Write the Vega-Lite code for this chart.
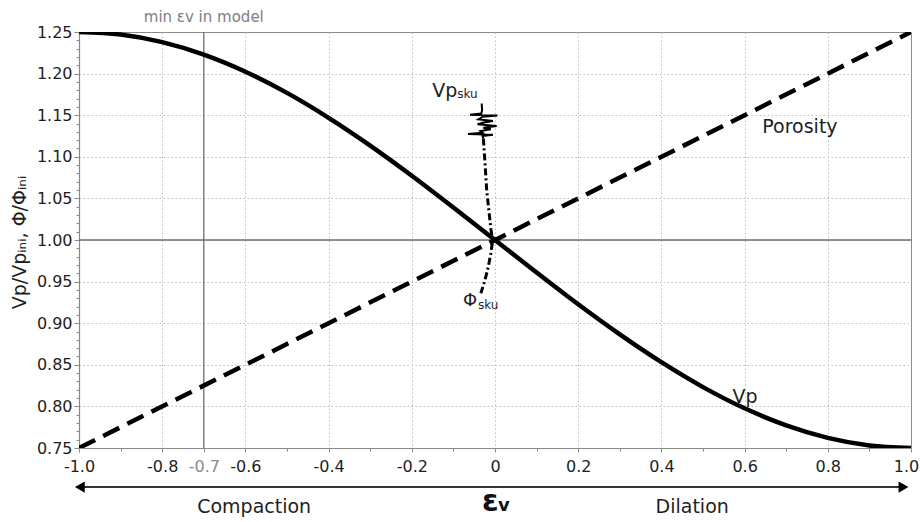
{
  "$schema": "https://vega.github.io/schema/vega-lite/v6.json",
  "width": 832,
  "height": 416,
  "autosize": {"type": "none"},
  "padding": {"left": 79, "top": 32, "right": 9, "bottom": 74},
  "background": "white",
  "config": {
    "view": {"stroke": "#8a8a8a", "strokeWidth": 1},
    "font": "DejaVu Sans",
    "axis": {"labelFont": "DejaVu Sans", "titleFont": "DejaVu Sans"}
  },
  "datasets": {
    "vp": [
      {"strain": -1.0, "ratio": 1.2500}, {"strain": -0.9, "ratio": 1.2469},
      {"strain": -0.8, "ratio": 1.2378}, {"strain": -0.7, "ratio": 1.2228},
      {"strain": -0.6, "ratio": 1.2023}, {"strain": -0.5, "ratio": 1.1768},
      {"strain": -0.4, "ratio": 1.1469}, {"strain": -0.3, "ratio": 1.1135},
      {"strain": -0.2, "ratio": 1.0773}, {"strain": -0.1, "ratio": 1.0391},
      {"strain": 0.0, "ratio": 1.0000}, {"strain": 0.1, "ratio": 0.9609},
      {"strain": 0.2, "ratio": 0.9227}, {"strain": 0.3, "ratio": 0.8865},
      {"strain": 0.4, "ratio": 0.8531}, {"strain": 0.5, "ratio": 0.8232},
      {"strain": 0.6, "ratio": 0.7977}, {"strain": 0.7, "ratio": 0.7772},
      {"strain": 0.8, "ratio": 0.7622}, {"strain": 0.9, "ratio": 0.7531},
      {"strain": 1.0, "ratio": 0.7500}
    ],
    "porosity": [
      {"strain": -1.0, "ratio": 0.75},
      {"strain": 1.0, "ratio": 1.25}
    ],
    "sku_log": [
      {"i": 0, "strain": -0.028, "ratio": 1.122},
      {"i": 1, "strain": -0.024, "ratio": 1.092},
      {"i": 2, "strain": -0.020, "ratio": 1.060},
      {"i": 3, "strain": -0.014, "ratio": 1.032},
      {"i": 4, "strain": -0.0096, "ratio": 1.012},
      {"i": 5, "strain": -0.0055, "ratio": 1.000},
      {"i": 6, "strain": -0.010, "ratio": 0.984},
      {"i": 7, "strain": -0.016, "ratio": 0.968},
      {"i": 8, "strain": -0.024, "ratio": 0.952},
      {"i": 9, "strain": -0.034, "ratio": 0.936}
    ],
    "sku_spikes": [
      {"i": 0, "strain": -0.032, "ratio": 1.164},
      {"i": 1, "strain": -0.031, "ratio": 1.156},
      {"i": 2, "strain": -0.033, "ratio": 1.152},
      {"i": 3, "strain": -0.060, "ratio": 1.1505},
      {"i": 4, "strain": 0.006, "ratio": 1.1495},
      {"i": 5, "strain": -0.030, "ratio": 1.148},
      {"i": 6, "strain": -0.040, "ratio": 1.145},
      {"i": 7, "strain": -0.005, "ratio": 1.143},
      {"i": 8, "strain": -0.030, "ratio": 1.141},
      {"i": 9, "strain": -0.042, "ratio": 1.139},
      {"i": 10, "strain": 0.004, "ratio": 1.137},
      {"i": 11, "strain": -0.028, "ratio": 1.135},
      {"i": 12, "strain": -0.010, "ratio": 1.133},
      {"i": 13, "strain": -0.035, "ratio": 1.131},
      {"i": 14, "strain": -0.030, "ratio": 1.129},
      {"i": 15, "strain": -0.065, "ratio": 1.1275},
      {"i": 16, "strain": -0.005, "ratio": 1.1265},
      {"i": 17, "strain": -0.030, "ratio": 1.125},
      {"i": 18, "strain": -0.028, "ratio": 1.122}
    ],
    "arrow": [
      {"strain": -0.99, "strain2": 0.98, "ratio": 0.703}
    ],
    "arrowheads": [
      {"strain": -0.998, "ratio": 0.703, "dir": "triangle-left"},
      {"strain": 0.982, "ratio": 0.703, "dir": "triangle-right"}
    ],
    "labels_big": [
      {"strain": 0.733, "ratio": 1.129, "text": "Porosity", "align": "center"},
      {"strain": 0.601, "ratio": 0.804, "text": "Vp", "align": "left"}
    ],
    "vp_sku": [
      {"strain": -0.151, "ratio": 1.172}
    ],
    "phi_sku": [
      {"strain": -0.077, "ratio": 0.921}
    ],
    "bottom_words": [
      {"strain": -0.579, "ratio": 0.672, "text": "Compaction"},
      {"strain": 0.474, "ratio": 0.672, "text": "Dilation"}
    ]
  },
  "layer": [
    {
      "data": {"values": [{"ratio": 1.0}]},
      "mark": {"type": "rule", "color": "#6e6e6e", "strokeWidth": 1.3},
      "encoding": {
        "y": {"field": "ratio", "type": "quantitative", "scale": {"domain": [0.75, 1.25], "nice": false, "zero": false}, "axis": null}
      }
    },
    {
      "data": {"values": [{"strain": -0.7}]},
      "mark": {"type": "rule", "color": "#6e6e6e", "strokeWidth": 1.3},
      "encoding": {
        "x": {"field": "strain", "type": "quantitative", "scale": {"domain": [-1, 1], "nice": false, "zero": false}, "axis": null}
      }
    },
    {
      "data": {"name": "vp"},
      "mark": {"type": "point", "opacity": 0},
      "encoding": {
        "x": {
          "field": "strain", "type": "quantitative",
          "axis": {
            "orient": "bottom", "values": [-0.9, -0.7, -0.5, -0.3, -0.1, 0.1, 0.3, 0.5, 0.7, 0.9],
            "labels": false, "grid": false, "domain": false, "title": null,
            "tickSize": 3, "tickColor": "#8a8a8a"
          }
        },
        "y": {
          "field": "ratio", "type": "quantitative",
          "axis": {
            "orient": "left",
            "values": [0.76, 0.77, 0.78, 0.79, 0.81, 0.82, 0.83, 0.84, 0.86, 0.87, 0.88, 0.89, 0.91, 0.92, 0.93, 0.94, 0.96, 0.97, 0.98, 0.99, 1.01, 1.02, 1.03, 1.04, 1.06, 1.07, 1.08, 1.09, 1.11, 1.12, 1.13, 1.14, 1.16, 1.17, 1.18, 1.19, 1.21, 1.22, 1.23, 1.24],
            "labels": false, "grid": false, "domain": false, "title": null,
            "tickSize": 3, "tickColor": "#8a8a8a"
          }
        }
      }
    },
    {
      "data": {"name": "vp"},
      "mark": {"type": "line", "interpolate": "monotone", "color": "#000000", "strokeWidth": 4.5, "clip": true},
      "encoding": {
        "x": {
          "field": "strain", "type": "quantitative",
          "axis": {
            "orient": "bottom",
            "values": [-1, -0.8, -0.7, -0.6, -0.4, -0.2, 0, 0.2, 0.4, 0.6, 0.8, 1],
            "labelExpr": "datum.value == 0 ? '0' : replace(format(datum.value, '.1f'), '\u2212', '-')",
            "labelFontSize": 16,
            "labelColor": {"condition": {"test": "datum.value == -0.7", "value": "#8a8a8a"}, "value": "#1e1e1e"},
            "labelOffset": {"condition": {"test": "datum.value == 1", "value": -5}, "value": 0},
            "labelPadding": 6, "labelFlush": false,
            "tickSize": 4, "tickColor": "#8a8a8a",
            "domainColor": "#8a8a8a", "domainWidth": 1.2,
            "grid": true, "gridColor": "#bdbdbd", "gridDash": [1.5, 2.5], "gridWidth": 1,
            "gridOpacity": {"condition": {"test": "datum.value == -0.7 || datum.value == -1 || datum.value == 1", "value": 0}, "value": 1},
            "title": null
          }
        },
        "y": {
          "field": "ratio", "type": "quantitative",
          "axis": {
            "orient": "left",
            "values": [0.75, 0.8, 0.85, 0.9, 0.95, 1.0, 1.05, 1.1, 1.15, 1.2, 1.25],
            "format": ".2f",
            "labelFontSize": 16, "labelColor": "#1e1e1e", "labelPadding": 2,
            "tickSize": 5, "tickColor": "#8a8a8a",
            "domainColor": "#8a8a8a", "domainWidth": 1.2,
            "grid": true, "gridColor": "#bdbdbd", "gridDash": [1.5, 2.5], "gridWidth": 1,
            "gridOpacity": {"condition": {"test": "datum.value == 0.75 || datum.value == 1.25", "value": 0}, "value": 1},
            "title": "Vp/Vpᵢₙᵢ, Φ/Φᵢₙᵢ",
            "titleFontSize": 19, "titleFontWeight": "normal", "titleColor": "#1e1e1e",
            "titleAngle": -90, "titleAlign": "center", "titleBaseline": "middle",
            "titleX": -60, "titleY": 210
          }
        }
      }
    },
    {
      "data": {"name": "porosity"},
      "mark": {"type": "line", "color": "#000000", "strokeWidth": 4.5, "strokeDash": [18, 9], "clip": true},
      "encoding": {
        "x": {"field": "strain", "type": "quantitative", "axis": null},
        "y": {"field": "ratio", "type": "quantitative", "axis": null}
      }
    },
    {
      "data": {"name": "sku_log"},
      "mark": {"type": "line", "color": "#000000", "strokeWidth": 3, "strokeDash": [7, 3, 2, 3]},
      "encoding": {
        "x": {"field": "strain", "type": "quantitative", "axis": null},
        "y": {"field": "ratio", "type": "quantitative", "axis": null},
        "order": {"field": "i", "type": "quantitative"}
      }
    },
    {
      "data": {"name": "sku_spikes"},
      "mark": {"type": "line", "color": "#000000", "strokeWidth": 2},
      "encoding": {
        "x": {"field": "strain", "type": "quantitative", "axis": null},
        "y": {"field": "ratio", "type": "quantitative", "axis": null},
        "order": {"field": "i", "type": "quantitative"}
      }
    },
    {
      "data": {"name": "labels_big"},
      "mark": {"type": "text", "fontSize": 19, "color": "#1e1e1e", "baseline": "alphabetic"},
      "encoding": {
        "x": {"field": "strain", "type": "quantitative", "axis": null},
        "y": {"field": "ratio", "type": "quantitative", "axis": null},
        "text": {"field": "text"},
        "align": {"field": "align", "type": "nominal", "scale": null}
      }
    },
    {
      "data": {"name": "vp_sku"},
      "mark": {"type": "text", "fontSize": 19, "color": "#1e1e1e", "align": "left", "baseline": "alphabetic", "text": "Vp"},
      "encoding": {
        "x": {"field": "strain", "type": "quantitative", "axis": null},
        "y": {"field": "ratio", "type": "quantitative", "axis": null}
      }
    },
    {
      "data": {"name": "vp_sku"},
      "mark": {"type": "text", "fontSize": 12, "color": "#1e1e1e", "align": "left", "baseline": "alphabetic", "dx": 25, "dy": 1, "text": "sku"},
      "encoding": {
        "x": {"field": "strain", "type": "quantitative", "axis": null},
        "y": {"field": "ratio", "type": "quantitative", "axis": null}
      }
    },
    {
      "data": {"name": "phi_sku"},
      "mark": {"type": "text", "fontSize": 18, "color": "#1e1e1e", "align": "left", "baseline": "alphabetic", "text": "Φ"},
      "encoding": {
        "x": {"field": "strain", "type": "quantitative", "axis": null},
        "y": {"field": "ratio", "type": "quantitative", "axis": null}
      }
    },
    {
      "data": {"name": "phi_sku"},
      "mark": {"type": "text", "fontSize": 12, "color": "#1e1e1e", "align": "left", "baseline": "alphabetic", "dx": 15, "dy": 3, "text": "sku"},
      "encoding": {
        "x": {"field": "strain", "type": "quantitative", "axis": null},
        "y": {"field": "ratio", "type": "quantitative", "axis": null}
      }
    },
    {
      "data": {"values": [{"strain": -0.7, "ratio": 1.262, "text": "min εv in model"}]},
      "mark": {"type": "text", "fontSize": 15, "color": "#808080", "align": "center", "baseline": "alphabetic", "clip": false},
      "encoding": {
        "x": {"field": "strain", "type": "quantitative", "axis": null},
        "y": {"field": "ratio", "type": "quantitative", "axis": null},
        "text": {"field": "text"}
      }
    },
    {
      "data": {"name": "arrow"},
      "mark": {"type": "rule", "color": "#333333", "strokeWidth": 2, "clip": false},
      "encoding": {
        "x": {"field": "strain", "type": "quantitative", "axis": null},
        "x2": {"field": "strain2"},
        "y": {"field": "ratio", "type": "quantitative", "axis": null}
      }
    },
    {
      "data": {"name": "arrowheads"},
      "mark": {"type": "point", "filled": true, "color": "#000000", "opacity": 1, "size": 130, "clip": false},
      "encoding": {
        "x": {"field": "strain", "type": "quantitative", "axis": null},
        "y": {"field": "ratio", "type": "quantitative", "axis": null},
        "shape": {"field": "dir", "type": "nominal", "scale": null}
      }
    },
    {
      "data": {"name": "bottom_words"},
      "mark": {"type": "text", "fontSize": 19, "color": "#1e1e1e", "align": "center", "baseline": "alphabetic", "clip": false},
      "encoding": {
        "x": {"field": "strain", "type": "quantitative", "axis": null},
        "y": {"field": "ratio", "type": "quantitative", "axis": null},
        "text": {"field": "text"}
      }
    },
    {
      "data": {"values": [{"strain": -0.031, "ratio": 0.674, "text": "ε"}]},
      "mark": {"type": "text", "fontSize": 30, "fontWeight": "bold", "color": "#111111", "align": "left", "baseline": "alphabetic", "clip": false},
      "encoding": {
        "x": {"field": "strain", "type": "quantitative", "axis": null},
        "y": {"field": "ratio", "type": "quantitative", "axis": null},
        "text": {"field": "text"}
      }
    },
    {
      "data": {"values": [{"strain": 0.007, "ratio": 0.674, "text": "v"}]},
      "mark": {"type": "text", "fontSize": 18, "fontWeight": "bold", "color": "#111111", "align": "left", "baseline": "alphabetic", "clip": false},
      "encoding": {
        "x": {"field": "strain", "type": "quantitative", "axis": null},
        "y": {"field": "ratio", "type": "quantitative", "axis": null},
        "text": {"field": "text"}
      }
    }
  ],
  "resolve": {"axis": {"x": "independent", "y": "independent"}}
}
